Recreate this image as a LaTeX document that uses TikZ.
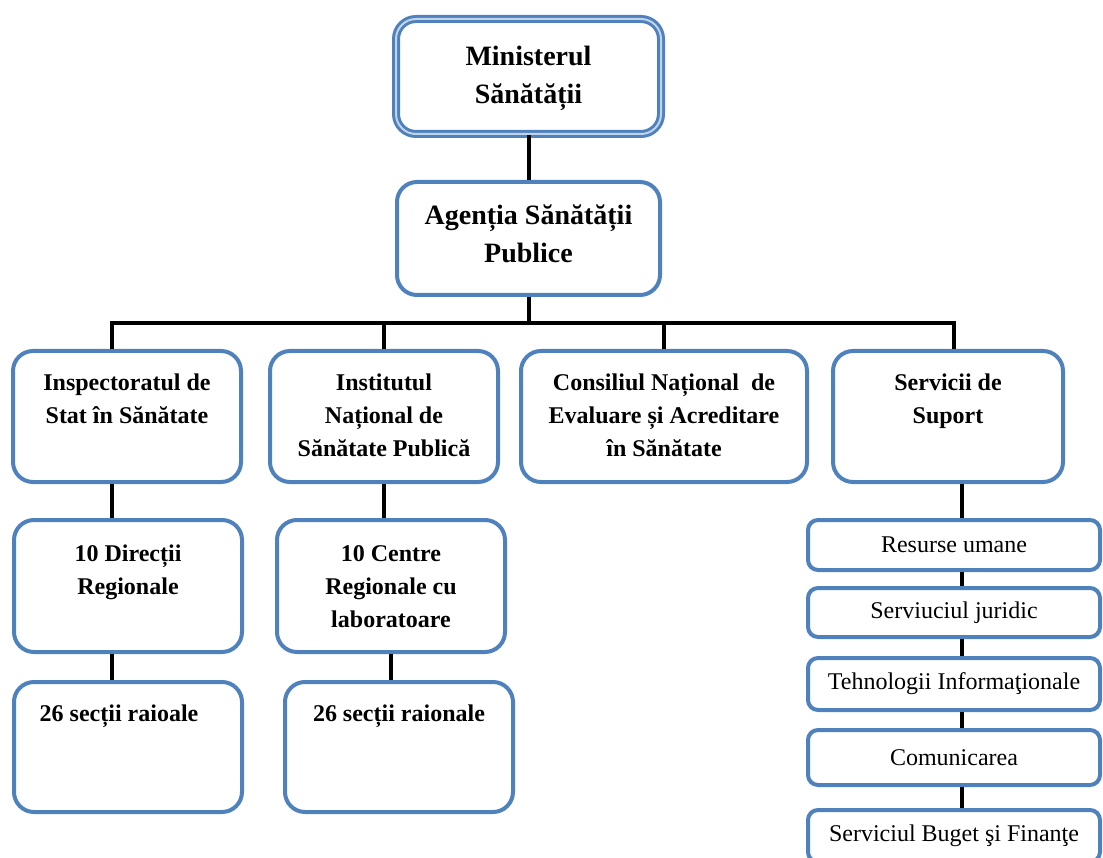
\documentclass[tikz,border=0pt]{standalone}
\usepackage{fontspec}
\setmainfont{Liberation Serif}
\usetikzlibrary{calc}
\definecolor{boxblue}{RGB}{79,129,189}
% text set at the top of a box: height, width, first baseline, lines
\def\boxtext#1#2#3#4{\parbox[t][#1pt][t]{#2pt}{\centering\rule{0pt}{#3pt}#4}}
\tikzset{
	unit/.style={draw=boxblue, line width=4pt, rounded corners=20pt, fill=white, inner sep=0pt, font=\fontsize{24}{33}\selectfont\bfseries},
	topunit/.style={unit, font=\fontsize{28}{38}\selectfont\bfseries},
	ministry/.style={topunit, line width=3pt, double=boxblue!35, double distance=2pt},
	service/.style={draw=boxblue, line width=4pt, rounded corners=10pt, fill=white, inner sep=0pt, minimum width=292pt, font=\fontsize{24}{28}\selectfont},
	link/.style={line width=4pt}
}

\begin{document}
\begin{tikzpicture}[x=1pt, y=-1pt]
		%%%%% START %%%%%
		\useasboundingbox (0,0) rectangle (1103,858);
		
		\node[ministry] (mins) at (528.5,76.5) {\boxtext{115}{265}{47}{Ministerul\\Sănătății}};
		\node[topunit] (asp) at (528.5,238.5) {\boxtext{113}{263}{43}{Agenția Sănătății\\Publice}};
		
		\node[unit] (insp) at (127,416.5) {\boxtext{131}{228}{40}{Inspectoratul de\\Stat în Sănătate}};
		\node[unit] (inst) at (384,416.5) {\boxtext{131}{228}{40}{Institutul\\Național de\\Sănătate Publică}};
		\node[unit] (cons) at (664,416.5) {\boxtext{131}{286}{40}{Consiliul Național\ \ de\\Evaluare și Acreditare\\în Sănătate}};
		\node[unit] (serv) at (948,416.5) {\boxtext{131}{230}{40}{Servicii de\\Suport}};
		
		\node[unit] (dir) at (128,586) {\boxtext{132}{228}{41}{10 Direcții\\Regionale}};
		\node[unit] (centre) at (391,586) {\boxtext{132}{228}{41}{10 Centre\\Regionale cu\\laboratoare}};
		
		\node[unit] (sr1) at (128,747) {\boxtext{130}{228}{39}{26 secții raioale\hspace*{18pt}}};
		\node[unit] (sr2) at (399,747) {\boxtext{130}{228}{39}{26 secții raionale}};
		
		\node[service, minimum height=50pt] (res) at (954,545) {Resurse umane};
		\node[service, minimum height=49pt] (jur) at (954,612.5) {Serviuciul juridic};
		\node[service, minimum height=52pt] (teh) at (954,684) {Tehnologii Informaţionale};
		\node[service, minimum height=55pt] (com) at (954,757.5) {Comunicarea};
		\node[service, minimum height=52pt] (buget) at (954,836) {Serviciul Buget şi Finanţe};
		
		\coordinate (busL) at (112,323);
		\coordinate (busR) at (954,323);
		\coordinate (chain) at (962,0);
		
		\draw[link] (mins) -- (asp);
		\draw[link] (asp.south) -- (asp.south |- busL);
		\draw[link] (insp.north -| busL) -- (busL) -- (busR) -- (serv.north -| busR);
		\draw[link] (inst.north) -- (inst.north |- busL);
		\draw[link] (cons.north) -- (cons.north |- busL);
		
		\draw[link] (insp.south -| busL) -- (dir.north -| busL);
		\draw[link] (dir.south -| busL) -- (sr1.north -| busL);
		\draw[link] (inst.south) -- (inst.south |- centre.north);
		\draw[link] (centre.south) -- (centre.south |- sr2.north);
		
		\foreach \a/\b in {serv/res, res/jur, jur/teh, teh/com, com/buget}
			\draw[link] (\a.south -| chain) -- (\b.north -| chain);
		
		%%%%% END %%%%%
\end{tikzpicture}
\end{document}
